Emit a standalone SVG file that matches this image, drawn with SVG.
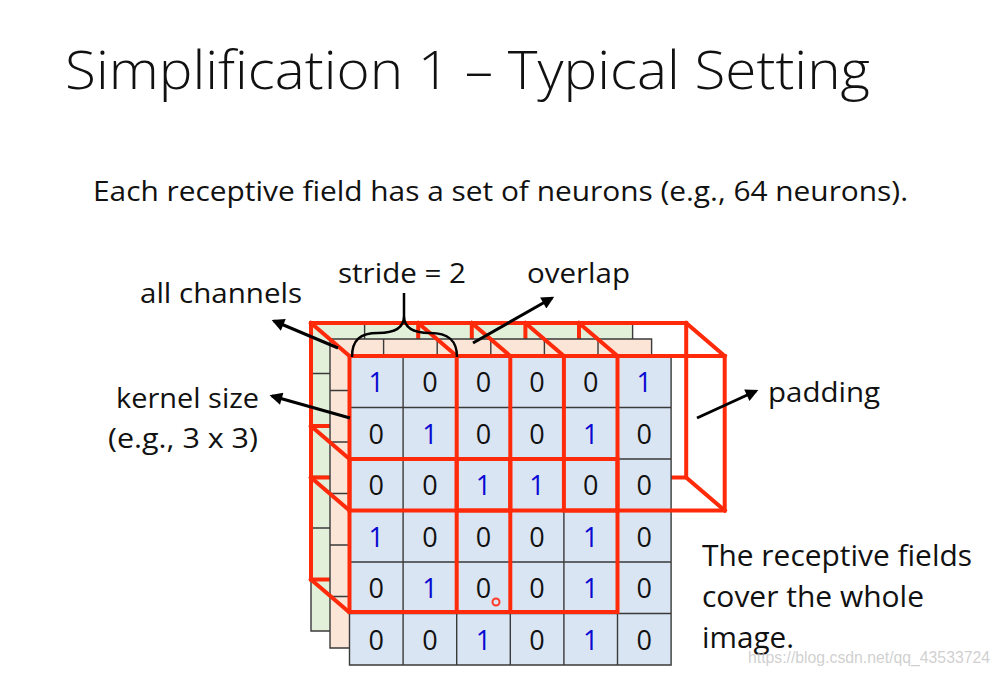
<svg xmlns="http://www.w3.org/2000/svg" width="1000" height="676" viewBox="0 0 1000 676">
<defs>
<style>
.t{font-family:"Open Sans","Liberation Sans",sans-serif;fill:#111}
.lbl{font-size:27px}
.d{font-family:"Open Sans","Liberation Sans",sans-serif;font-size:27px;text-anchor:middle;fill:#111}
.one{fill:#0a0ad2}
.gl{stroke:#3a3a3a;stroke-width:1.4;fill:none}
.red{stroke:#ff2a0a;stroke-width:4;fill:none;stroke-linejoin:miter;stroke-linecap:square}
.arr{stroke:#000;stroke-width:3;fill:none;marker-end:url(#ah)}
</style>
<marker id="ah" viewBox="0 0 10 10" refX="8" refY="5" markerWidth="5" markerHeight="4.2" orient="auto" markerUnits="strokeWidth">
<path d="M0,0 L10,5 L0,10 z" fill="#000"/>
</marker>
</defs>
<rect width="1000" height="676" fill="#fff"/>

<g id="title"><text class="t" x="65" y="89" font-size="54" font-weight="300" textLength="805" lengthAdjust="spacingAndGlyphs">Simplification 1 – Typical Setting</text></g>
<g id="subtitle"><text class="t" x="93" y="201" font-size="28" textLength="815" lengthAdjust="spacingAndGlyphs">Each receptive field has a set of neurons (e.g., 64 neurons).</text></g>

<!-- green channel layer -->
<g id="layer-green">
<rect x="311" y="322" width="321.6" height="309" fill="#e2efd9"/>
<path class="gl" d="M311,322H632.6V631H311Z M364.6,322V631 M418.2,322V631 M471.8,322V631 M525.4,322V631 M579,322V631 M311,373.5H632.6 M311,425H632.6 M311,476.5H632.6 M311,528H632.6 M311,579.5H632.6"/>
</g>

<!-- red back edges -->
<g id="rf-back">
<rect class="red" x="311" y="323" width="160.8" height="154.5"/>
<rect class="red" x="418.2" y="323" width="160.8" height="154.5"/>
<rect class="red" x="525.4" y="323" width="160.8" height="154.5"/>
<rect class="red" x="311" y="426" width="160.8" height="153.5"/>
<rect class="red" x="418.2" y="426" width="160.8" height="153.5"/>
</g>

<!-- peach channel layer -->
<g id="layer-peach">
<rect x="330" y="339" width="321.6" height="309" fill="#fbe5d6"/>
<path class="gl" d="M330,339H651.6V648H330Z M383.6,339V648 M437.2,339V648 M490.8,339V648 M544.4,339V648 M598,339V648 M330,390.5H651.6 M330,442H651.6 M330,493.5H651.6 M330,545H651.6 M330,596.5H651.6"/>
</g>

<!-- red depth edges -->
<g id="rf-depth" class="red">
<path d="M311,323L349.5,356 M471.8,323L510.3,356 M311,477.5L349.5,510.5"/>
<path d="M418.2,323L456.7,356 M579,323L617.5,356"/>
<path d="M525.4,323L563.9,356 M686.2,323L724.7,356 M686.2,477.5L724.7,510.5"/>
<path d="M311,426L349.5,459 M311,579.5L349.5,612.5"/>
</g>

<!-- front channel -->
<g id="layer-front">
<rect x="349.5" y="356" width="321.6" height="309" fill="#dae5f3"/>
<path class="gl" d="M349.5,356H671.1V665H349.5Z M403.1,356V665 M456.7,356V665 M510.3,356V665 M563.9,356V665 M617.5,356V665 M349.5,407.5H671.1 M349.5,459H671.1 M349.5,510.5H671.1 M349.5,562H671.1 M349.5,613.5H671.1"/>
<g id="digits">
<text class="d one" x="376.3" y="392">1</text><text class="d" x="429.9" y="392">0</text><text class="d" x="483.5" y="392">0</text><text class="d" x="537.1" y="392">0</text><text class="d" x="590.7" y="392">0</text><text class="d one" x="644.3" y="392">1</text>
<text class="d" x="376.3" y="443.5">0</text><text class="d one" x="429.9" y="443.5">1</text><text class="d" x="483.5" y="443.5">0</text><text class="d" x="537.1" y="443.5">0</text><text class="d one" x="590.7" y="443.5">1</text><text class="d" x="644.3" y="443.5">0</text>
<text class="d" x="376.3" y="495">0</text><text class="d" x="429.9" y="495">0</text><text class="d one" x="483.5" y="495">1</text><text class="d one" x="537.1" y="495">1</text><text class="d" x="590.7" y="495">0</text><text class="d" x="644.3" y="495">0</text>
<text class="d one" x="376.3" y="546.5">1</text><text class="d" x="429.9" y="546.5">0</text><text class="d" x="483.5" y="546.5">0</text><text class="d" x="537.1" y="546.5">0</text><text class="d one" x="590.7" y="546.5">1</text><text class="d" x="644.3" y="546.5">0</text>
<text class="d" x="376.3" y="598">0</text><text class="d one" x="429.9" y="598">1</text><text class="d" x="483.5" y="598">0</text><text class="d" x="537.1" y="598">0</text><text class="d one" x="590.7" y="598">1</text><text class="d" x="644.3" y="598">0</text>
<text class="d" x="376.3" y="649.5">0</text><text class="d" x="429.9" y="649.5">0</text><text class="d one" x="483.5" y="649.5">1</text><text class="d" x="537.1" y="649.5">0</text><text class="d one" x="590.7" y="649.5">1</text><text class="d" x="644.3" y="649.5">0</text>
</g>
</g>

<!-- red front faces -->
<g id="rf-front">
<rect class="red" x="349.5" y="356" width="160.8" height="154.5"/>
<rect class="red" x="456.7" y="356" width="160.8" height="154.5"/>
<rect class="red" x="563.9" y="356" width="160.8" height="154.5"/>
<rect class="red" x="349.5" y="459" width="160.8" height="153"/>
<rect class="red" x="456.7" y="459" width="160.8" height="153"/>
</g>

<g id="cursor"><circle cx="496" cy="602" r="3.5" fill="none" stroke="#ff3a2a" stroke-width="2"/></g>

<!-- connectors -->
<g id="connectors">
<path class="arr" d="M338,348 L274,321"/>
<path class="arr" d="M350,418 L272,396"/>
<path class="arr" d="M473,343 L552,298"/>
<path class="arr" d="M697,418 L756,391"/>
<path d="M352,357 C352,340 360,333 378,333 C395,333 404,328 404,316 L404,293 M404,316 C404,328 413,333 430,333 C448,333 457,340 457,357" fill="none" stroke="#000" stroke-width="2.5"/>
</g>

<g id="labels">
<text class="t lbl" x="338" y="283" textLength="128" lengthAdjust="spacingAndGlyphs">stride = 2</text>
<text class="t lbl" x="527" y="283" textLength="103" lengthAdjust="spacingAndGlyphs">overlap</text>
<text class="t lbl" x="140" y="303" textLength="162" lengthAdjust="spacingAndGlyphs">all channels</text>
<text class="t lbl" x="116" y="408" textLength="143" lengthAdjust="spacingAndGlyphs">kernel size</text>
<text class="t lbl" x="108" y="448" textLength="150" lengthAdjust="spacingAndGlyphs">(e.g., 3 x 3)</text>
<text class="t lbl" x="768" y="402" textLength="112" lengthAdjust="spacingAndGlyphs">padding</text>
<text class="t" font-size="29" x="702" y="566" textLength="270" lengthAdjust="spacingAndGlyphs">The receptive fields</text>
<text class="t" font-size="29" x="702" y="607" textLength="222" lengthAdjust="spacingAndGlyphs">cover the whole</text>
<text class="t" font-size="29" x="702" y="648" textLength="92" lengthAdjust="spacingAndGlyphs">image.</text>
</g>

<g id="watermark"><text x="748" y="663" font-family="Liberation Sans, Arial, sans-serif" font-size="17" fill="#c4c4c4" fill-opacity="0.8" textLength="242" lengthAdjust="spacingAndGlyphs">https://blog.csdn.net/qq_43533724</text></g>
</svg>
